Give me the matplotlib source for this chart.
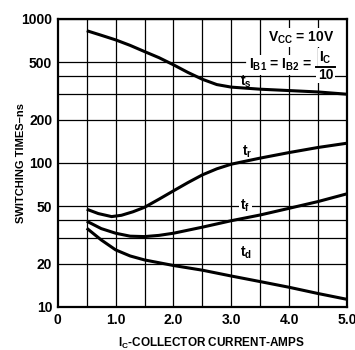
import matplotlib
matplotlib.use('Agg')
import matplotlib.pyplot as plt

plt.rcParams['font.family'] = ['Liberation Sans', 'DejaVu Sans']
plt.rcParams['font.weight'] = 'bold'
plt.rcParams['mathtext.default'] = 'regular'

# collector current (A) and switching times (ns)
ic_ts = [0.5, 0.75, 1.0, 1.25, 1.5, 1.75, 2.0, 2.25, 2.5, 2.75, 3.0, 3.5, 4.0, 4.5, 5.0]
ts = [828, 770, 715, 655, 593, 538, 480, 425, 381, 350, 336, 325, 318, 311, 300]

ic_tr = [0.5, 0.7, 0.93, 1.1, 1.3, 1.5, 1.75, 2.0, 2.25, 2.5, 2.75, 3.0, 3.5, 4.0, 4.5, 5.0]
tr = [47.7, 44.5, 42.4, 43.3, 45.8, 49.2, 56, 64, 73, 82.6, 91, 98, 108, 118, 128, 137]

ic_tf = [0.5, 0.75, 1.0, 1.25, 1.5, 1.75, 2.0, 2.5, 3.0, 3.5, 4.0, 4.5, 5.0]
tf = [39.4, 35.0, 32.5, 31.0, 30.8, 31.4, 32.5, 35.8, 39.7, 43.5, 48.4, 53.9, 61]

ic_td = [0.5, 0.75, 1.0, 1.25, 1.5, 2.0, 2.5, 3.0, 3.5, 4.0, 4.5, 5.0]
td = [35.2, 29.2, 24.9, 22.6, 21.2, 19.4, 18.0, 16.4, 15.0, 13.7, 12.4, 11.3]

x_ticks = [0, 1, 2, 3, 4, 5]
x_labels = ['0', '1.0', '2.0', '3.0', '4.0', '5.0']
y_ticks = [10, 20, 50, 100, 200, 500, 1000]
y_grid = [10, 20, 30, 40, 50, 100, 200, 300, 400, 1000]

fig = plt.figure(figsize=(3.55, 3.5), dpi=100)
ax = fig.add_axes([0.163, 0.123, 0.814, 0.823])
ax.set_yscale('log')
ax.set_xlim(0, 5)
ax.set_ylim(10, 1000)

# grid (the 500 line stops where the base-current note starts)
for g in y_grid:
    ax.axhline(g, color='black', lw=0.9, zorder=1)
ax.plot([0, 3.24], [500, 500], color='black', lw=0.9, zorder=1)
for k in range(1, 10):
    ax.axvline(k * 0.5, color='black', lw=0.9, zorder=1)

for xs, ys in [(ic_ts, ts), (ic_tr, tr), (ic_tf, tf), (ic_td, td)]:
    ax.plot(xs, ys, color='black', lw=2.2, solid_capstyle='butt', zorder=3)

ax.set_xticks(x_ticks)
ax.set_xticklabels(x_labels)
ax.set_yticks(y_ticks)
ax.set_yticklabels([str(v) for v in y_ticks])
ax.minorticks_off()
ax.tick_params(length=0, labelsize=10, pad=4)
for lab in ax.get_xticklabels() + ax.get_yticklabels():
    lab.set_fontweight('bold')
for s in ax.spines.values():
    s.set_linewidth(1.6)

ax.set_ylabel('SWITCHING TIMES\u2013ns', fontsize=8, fontweight='bold')
ax.yaxis.set_label_coords(-0.11, 0.5)
ax.set_xlabel('I$_C$-COLLECTOR CURRENT-AMPS', fontsize=8.5, fontweight='bold')
ax.xaxis.set_label_coords(0.53, -0.1)

box = dict(facecolor='white', edgecolor='none', pad=1)
ax.text(4.79, 738, 'V$_{CC}$ = 10V', ha='right', va='center', fontsize=10, bbox=box, zorder=4)
ax.text(4.40, 479, 'I$_{B1}$ = I$_{B2}$ =', ha='right', va='center', fontsize=10, bbox=box, zorder=4)
# fraction I_C / 10
ax.text(4.63, 540, 'I$_C$', ha='center', va='center', fontsize=10, bbox=box, zorder=4)
ax.plot([4.47, 4.79], [462, 462], color='black', lw=1.4, zorder=5)
ax.text(4.63, 410, '10', ha='center', va='center', fontsize=10, bbox=box, zorder=4)

ax.text(3.25, 365, 't$_s$', fontsize=10, ha='center', va='center', zorder=4)
ax.text(3.27, 119, 't$_r$', fontsize=10, ha='center', va='center', zorder=4)
ax.text(3.24, 50.3, 't$_f$', fontsize=10, ha='center', va='center', bbox=box, zorder=4)
ax.text(3.26, 23.8, 't$_d$', fontsize=10, ha='center', va='center', zorder=4)

fig.savefig('out.png', dpi=100)
